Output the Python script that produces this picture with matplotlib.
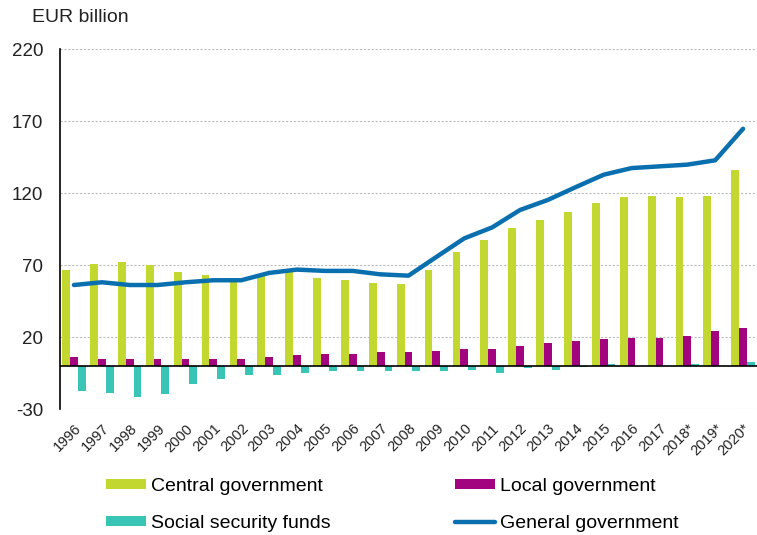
import matplotlib
matplotlib.use("Agg")
import matplotlib.pyplot as plt
import numpy as np

years = ["1996", "1997", "1998", "1999", "2000", "2001", "2002", "2003", "2004",
         "2005", "2006", "2007", "2008", "2009", "2010", "2011", "2012", "2013",
         "2014", "2015", "2016", "2017", "2018*", "2019*", "2020*"]
central = [66.3, 71.0, 72.2, 69.8, 65.2, 63.3, 58.7, 62.8, 66.0, 61.0, 59.8, 57.7, 56.5,
           66.3, 78.7, 87.7, 95.7, 101.3, 106.6, 113.4, 116.9, 117.8, 116.9, 117.8, 135.7]
local = [6.1, 4.9, 4.9, 4.9, 4.9, 4.9, 4.9, 6.1, 7.2, 8.1, 8.1, 9.3, 9.3,
         10.5, 11.6, 11.6, 13.7, 16.1, 17.2, 18.4, 19.6, 19.6, 20.5, 24.0, 26.0]
social = [-17.5, -18.6, -21.6, -19.8, -12.8, -9.5, -6.3, -6.3, -5.1, -3.9, -3.9, -3.9, -3.9,
          -3.9, -2.8, -5.1, -1.6, -2.8, -1.0, 1.5, 0.0, 0.0, 1.5, 0.0, 2.8]
general = [56.1, 58.0, 56.1, 56.1, 58.0, 59.4, 59.4, 64.5, 66.8, 65.9, 65.9, 63.5, 62.6,
           75.6, 88.5, 96.1, 108.2, 115.2, 124.1, 132.7, 137.3, 138.5, 139.7, 142.7, 164.6]
yticks = [-30, 20, 70, 120, 170, 220]

c_central = "#C2D72F"
c_local = "#A2037F"
c_social = "#38C5B6"
c_general = "#0A6FAE"

plt.rcParams['font.family'] = ['Liberation Sans', 'DejaVu Sans']

fig = plt.figure(figsize=(7.57, 5.35), dpi=100)
ax = fig.add_axes([60/757, (535-409)/535, 697/757, 360/535])

x = np.arange(len(years))
w = 0.28
h_c = ax.bar(x - w, central, width=w, color=c_central, label="Central government", zorder=3)
h_l = ax.bar(x, local, width=w, color=c_local, label="Local government", zorder=3)
h_s = ax.bar(x + w, social, width=w, color=c_social, label="Social security funds", zorder=3)
h_g, = ax.plot(x, general, color=c_general, lw=3.2, label="General government", zorder=4,
               solid_capstyle='round', solid_joinstyle='round')

ax.set_xlim(-0.5, len(years) - 0.5)
ax.set_ylim(-30, 220)
ax.set_yticks(yticks)
ax.set_yticklabels([str(t) for t in yticks], fontsize=13.5, color="#222222")
ax.set_xticks(x)
ax.set_xticklabels(years, rotation=45, ha='right', rotation_mode='anchor', fontsize=10.5,
                   color="#222222")
ax.tick_params(axis='both', length=0)
ax.tick_params(axis='y', pad=12)
ax.tick_params(axis='x', pad=9)

for t in yticks:
    ax.axhline(t, color="#BBBBBB", lw=0.8, ls=(0, (2, 1.5)), zorder=1)
ax.axhline(0, color="black", lw=1.2, zorder=5)

for s in ['top', 'right', 'bottom']:
    ax.spines[s].set_visible(False)
ax.spines['left'].set_color('black')
ax.spines['left'].set_linewidth(1.2)

fig.text(32/757, 1 - 18/535, "EUR billion", fontsize=14, va='center', ha='left', color="#222222")

# column-major fill: column 1 = Central, Social; column 2 = Local, General
handles = [h_c, h_s, h_l, h_g]
labels = [h.get_label() for h in handles]
leg = fig.legend(handles, labels, ncol=2, loc='center left',
                 bbox_to_anchor=(88/757, 1 - 505/535), frameon=False,
                 fontsize=14, handlelength=2.06, handleheight=0.42,
                 handletextpad=0.26, columnspacing=6.4, labelspacing=1.05)

fig.savefig("out.png", dpi=100)
